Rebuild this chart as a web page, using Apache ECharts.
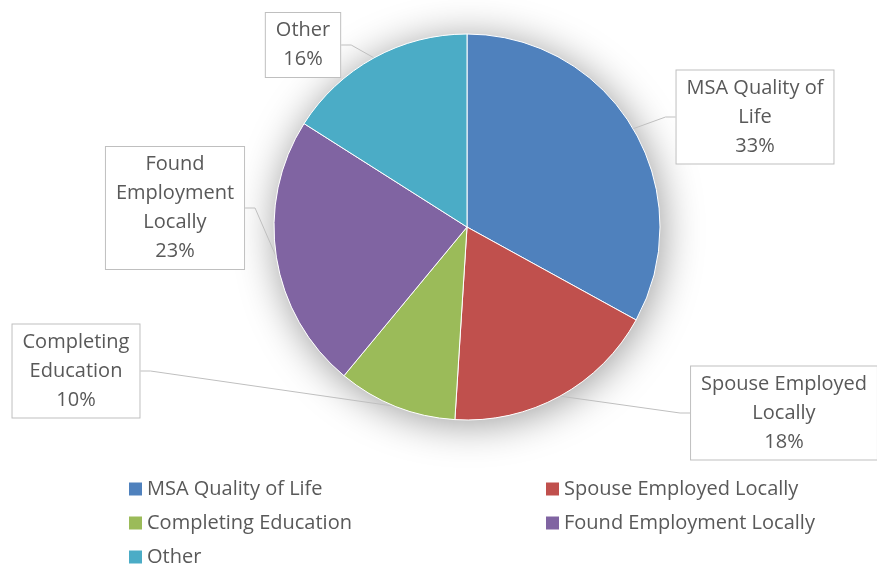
<!DOCTYPE html>
<html>
<head>
<meta charset="utf-8">
<script src="https://cdn.jsdelivr.net/npm/echarts@6/dist/echarts.min.js"></script>
<style>html,body{margin:0;padding:0;background:#fff;}#c{width:877px;height:564px;}</style>
</head>
<body>
<div id="c"></div>
<script>
const categories = ['MSA Quality of Life', 'Spouse Employed Locally', 'Completing Education', 'Found Employment Locally', 'Other'];
const values = [33, 18, 10, 23, 16];
const labelTexts = ['MSA Quality of\nLife\n33%', 'Spouse Employed\nLocally\n18%', 'Completing\nEducation\n10%', 'Found\nEmployment\nLocally\n23%', 'Other\n16%'];
const colors = ['#4F81BD', '#C0504D', '#9BBB59', '#8064A2', '#4BACC6'];
const labelCenters = [[755, 117], [784, 413], [76, 371], [175, 208], [303, 45]];

const FONT = 'Open Sans';
const FS = 20;
const chart = echarts.init(document.getElementById('c'), null, {renderer: 'canvas'});
chart.setOption({
  animation: false,
  color: colors,
  textStyle: {fontFamily: FONT},
  legend: [
    {
      data: [categories[0], categories[2], categories[4]],
      orient: 'vertical', left: 124, top: 472, height: 120, itemGap: 10,
      itemWidth: 13, itemHeight: 13, icon: 'rect', itemStyle: {borderWidth: 0},
      textStyle: {fontFamily: FONT, fontSize: FS, color: '#595959', lineHeight: 24},
      selectedMode: false
    },
    {
      data: [categories[1], categories[3]],
      orient: 'vertical', left: 541, top: 472, height: 120, itemGap: 10,
      itemWidth: 13, itemHeight: 13, icon: 'rect', itemStyle: {borderWidth: 0},
      textStyle: {fontFamily: FONT, fontSize: FS, color: '#595959', lineHeight: 24},
      selectedMode: false
    }
  ],
  series: [
    {
      type: 'pie', silent: true, z: 1,
      center: [467, 227], radius: 193,
      label: {show: false}, labelLine: {show: false},
      itemStyle: {color: '#ffffff', shadowBlur: 40, shadowColor: 'rgba(0,0,0,0.4)', shadowOffsetX: 2, shadowOffsetY: 4},
      data: [{value: 1, name: '_bg'}],
      legendHoverLink: false
    },
    {
      type: 'pie', z: 2,
      center: [467, 227], radius: 193,
      startAngle: 90, clockwise: true,
      itemStyle: {borderColor: '#ffffff', borderWidth: 1},
      data: categories.map((n, i) => ({name: n, value: values[i]})),
      label: {
        show: true,
        formatter: p => labelTexts[p.dataIndex],
        fontFamily: FONT, fontSize: FS, lineHeight: 29, color: '#595959',
        align: 'center',
        backgroundColor: '#ffffff', borderColor: '#bfbfbf', borderWidth: 1,
        padding: [3, 10, 3, 10]
      },
      labelLine: {show: true, length: 10, length2: 10, lineStyle: {color: '#bfbfbf', width: 1}},
      labelLayout: function (p) {
        const c = labelCenters[p.dataIndex];
        return {x: c[0], y: c[1], align: 'center', verticalAlign: 'middle'};
      },
      emphasis: {disabled: true}
    }
  ]
});
</script>
</body>
</html>
